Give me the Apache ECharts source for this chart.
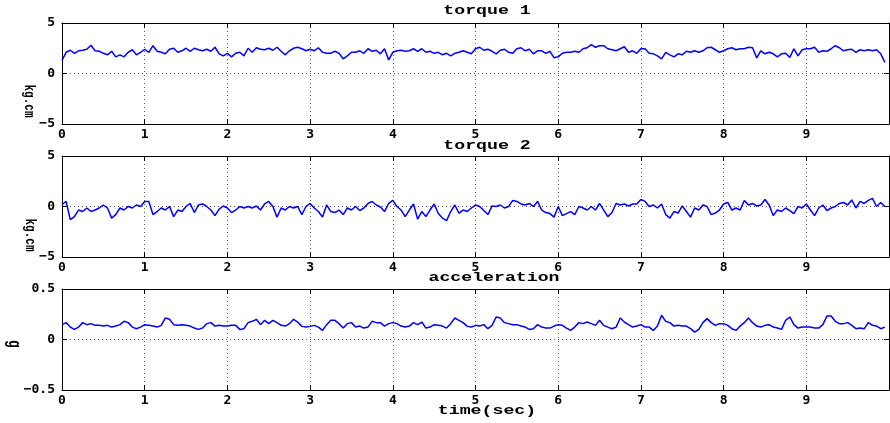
<!DOCTYPE html>
<html>
<head>
<meta charset="utf-8">
<script src="https://cdn.jsdelivr.net/npm/echarts@6/dist/echarts.min.js"></script>
<style>html,body{margin:0;padding:0;background:#fff}#c{width:890px;height:423px}</style>
</head>
<body>
<div id="c"></div>
<script>
const times = [
0,0.05,0.1,0.15,0.2,0.25,0.3,0.35,0.4,0.45,0.5,0.55,0.6,0.65,0.7,0.75,0.8,0.85,0.9,0.95,
1,1.05,1.1,1.15,1.2,1.25,1.3,1.35,1.4,1.45,1.5,1.55,1.6,1.65,1.7,1.75,1.8,1.85,1.9,1.95,
2,2.05,2.1,2.15,2.2,2.25,2.3,2.35,2.4,2.45,2.5,2.55,2.6,2.65,2.7,2.75,2.8,2.85,2.9,2.95,
3,3.05,3.1,3.15,3.2,3.25,3.3,3.35,3.4,3.45,3.5,3.55,3.6,3.65,3.7,3.75,3.8,3.85,3.9,3.95,
4,4.05,4.1,4.15,4.2,4.25,4.3,4.35,4.4,4.45,4.5,4.55,4.6,4.65,4.7,4.75,4.8,4.85,4.9,4.95,
5,5.05,5.1,5.15,5.2,5.25,5.3,5.35,5.4,5.45,5.5,5.55,5.6,5.65,5.7,5.75,5.8,5.85,5.9,5.95,
6,6.05,6.1,6.15,6.2,6.25,6.3,6.35,6.4,6.45,6.5,6.55,6.6,6.65,6.7,6.75,6.8,6.85,6.9,6.95,
7,7.05,7.1,7.15,7.2,7.25,7.3,7.35,7.4,7.45,7.5,7.55,7.6,7.65,7.7,7.75,7.8,7.85,7.9,7.95,
8,8.05,8.1,8.15,8.2,8.25,8.3,8.35,8.4,8.45,8.5,8.55,8.6,8.65,8.7,8.75,8.8,8.85,8.9,8.95,
9,9.05,9.1,9.15,9.2,9.25,9.3,9.35,9.4,9.45,9.5,9.55,9.6,9.65,9.7,9.75,9.8,9.85,9.9,9.95
];
const torque1 = [
1.3,2.1,2.3,2.0,2.25,2.3,2.4,2.8,2.25,2.2,2.0,1.85,2.2,1.65,1.85,1.65,2.1,2.35,1.85,2.1,
2.4,2.1,2.75,2.2,2.1,1.95,2.4,2.5,2.1,2.25,2.5,2.2,2.5,2.35,2.25,2.4,2.2,2.6,1.95,1.75,
2.0,1.65,2.0,2.1,1.75,2.5,2.1,2.55,2.4,2.35,2.5,2.3,2.6,2.2,1.85,2.25,2.5,2.6,2.45,2.25,
2.4,2.25,2.55,2.1,2.0,2.0,2.2,2.0,1.45,1.75,2.1,2.1,2.25,2.0,2.45,2.2,2.3,1.95,2.45,1.35,
2.1,2.25,2.3,2.2,2.25,2.45,2.2,2.45,2.1,2.2,2.0,2.1,1.85,2.0,1.75,2.0,2.1,2.25,2.1,1.95,
2.45,2.6,2.3,2.4,2.2,1.95,2.3,2.4,2.1,2.0,2.45,2.55,2.25,2.4,1.95,2.25,2.25,2.0,2.2,1.55,
1.65,2.0,2.1,2.1,2.2,2.1,2.45,2.55,2.85,2.6,2.75,2.75,2.45,2.35,2.25,2.45,2.65,2.1,2.25,2.0,
2.45,2.45,2.0,1.95,1.75,1.45,2.1,1.85,1.65,1.95,1.85,2.2,2.1,2.25,2.1,2.25,2.55,2.6,2.35,2.1,
2.25,2.45,2.55,2.35,2.45,2.45,2.6,2.55,1.55,2.25,1.95,2.1,1.95,1.65,1.95,2.0,1.6,2.45,1.75,2.35,
2.45,2.45,2.6,2.1,2.25,2.2,2.45,2.75,2.55,2.25,2.35,2.4,2.1,2.35,2.25,2.35,2.25,2.35,1.95,1.1
];
const torque2 = [
0.2,0.5,-1.3,-1.0,-0.35,-0.5,-0.15,-0.5,-0.35,-0.15,0.15,-0.15,-1.15,-0.8,-0.15,-0.35,0.0,-0.15,0.15,0.0,
0.5,0.5,-0.8,-0.5,-0.15,-0.35,0.0,-1.0,-0.35,-0.5,0.0,0.3,-0.6,0.15,0.25,0.0,-0.35,-0.9,-0.25,0.05,
-0.15,-0.6,-0.35,0.0,-0.15,0.0,-0.15,0.05,-0.35,0.25,0.5,0.0,-1.05,-0.15,-0.35,0.0,-0.15,0.0,-0.8,0.0,
0.3,-0.15,-0.5,-1.05,0.15,-0.5,-0.6,-0.35,-0.8,-0.15,-0.35,0.0,-0.4,-0.15,0.3,0.5,0.15,-0.05,-0.5,0.3,
0.6,0.0,-0.35,-1.0,-0.35,0.25,-1.25,-0.5,-1.0,-0.35,0.25,-0.7,-1.15,-1.4,-0.5,0.15,-0.65,-0.35,-0.5,-0.15,
0.15,0.0,-0.4,-0.8,0.05,0.0,0.15,-0.15,0.0,0.6,0.5,0.25,0.15,0.3,0.0,0.5,-0.35,-0.6,-0.7,-1.05,
0.0,-0.9,-0.7,-0.5,-0.8,0.0,-0.15,-0.35,0.0,-0.35,0.3,-0.35,-1.0,-0.6,0.3,0.15,0.25,0.05,0.25,0.25,
0.7,0.5,0.0,0.15,-0.15,0.25,-0.8,-1.15,-0.5,-0.65,0.05,-0.5,-1.05,-0.15,-0.35,0.15,0.0,-0.8,-0.65,-0.35,
0.25,0.4,-0.35,-0.15,-0.35,0.6,0.15,0.3,0.05,0.15,0.7,0.15,-0.9,-0.35,-0.5,-0.15,-0.4,-0.7,0.0,-0.15,
0.25,-0.35,-0.9,-0.15,0.15,-0.4,-0.15,0.0,0.3,0.4,0.15,0.65,-0.15,0.5,0.3,0.6,0.8,0.0,0.4,0.0
];
const acceleration = [
0.147,0.167,0.123,0.10,0.123,0.167,0.147,0.157,0.14,0.14,0.133,0.14,0.123,0.133,0.147,0.18,0.167,0.123,0.107,0.123,
0.147,0.14,0.133,0.123,0.14,0.213,0.20,0.147,0.14,0.147,0.14,0.133,0.113,0.10,0.113,0.157,0.167,0.133,0.14,0.133,
0.133,0.14,0.14,0.10,0.107,0.167,0.18,0.20,0.147,0.19,0.157,0.19,0.167,0.14,0.133,0.157,0.20,0.173,0.13,0.123,
0.13,0.14,0.123,0.09,0.147,0.19,0.19,0.157,0.113,0.157,0.167,0.123,0.133,0.113,0.123,0.18,0.167,0.167,0.133,0.157,
0.167,0.157,0.133,0.123,0.133,0.167,0.147,0.173,0.113,0.123,0.147,0.14,0.133,0.113,0.157,0.213,0.19,0.167,0.13,0.123,
0.14,0.133,0.147,0.107,0.14,0.223,0.213,0.167,0.157,0.147,0.147,0.133,0.123,0.10,0.107,0.147,0.123,0.113,0.113,0.133,
0.147,0.14,0.113,0.09,0.123,0.167,0.157,0.173,0.157,0.14,0.19,0.14,0.123,0.107,0.123,0.213,0.173,0.147,0.123,0.133,
0.147,0.123,0.123,0.09,0.133,0.24,0.18,0.167,0.133,0.14,0.133,0.133,0.107,0.073,0.10,0.167,0.207,0.167,0.14,0.157,
0.157,0.14,0.107,0.09,0.133,0.167,0.213,0.167,0.133,0.123,0.14,0.147,0.123,0.113,0.10,0.19,0.223,0.147,0.113,0.123,
0.123,0.123,0.113,0.113,0.147,0.233,0.233,0.18,0.157,0.157,0.167,0.14,0.107,0.113,0.107,0.167,0.14,0.133,0.107,0.123
];
const titles = ['torque 1', 'torque 2', 'acceleration'];
const yLabels = ['kg.cm', 'kg.cm', 'g'];
const xLabel = 'time(sec)';
const yRanges = [[-5, 5, 5], [-5, 5, 5], [-0.5, 0.5, 0.5]];
const seriesList = [torque1, torque2, acceleration];

const gridTops = [23, 156, 289];
const gridH = 101;
const tickFont = {fontFamily: 'DejaVu Sans Mono', fontWeight: 'bold', fontSize: 13, color: '#000'};
const fmtY = v => String(v).replace('-', '\u2212');

const grids = [], xAxes = [], yAxes = [], series = [];
for (let i = 0; i < 3; i++) {
  grids.push({left: 62, width: 827, top: gridTops[i], height: gridH, containLabel: false});
  xAxes.push({
    type: 'value', gridIndex: i, min: 0, max: 10, interval: 1, position: 'bottom',
    axisLine: {show: true, onZero: false, lineStyle: {color: '#000', width: 1}},
    axisTick: {show: true, inside: true, length: 5, lineStyle: {color: '#000'}},
    axisLabel: Object.assign({margin: 4, showMaxLabel: false}, tickFont),
    splitLine: {show: true, lineStyle: {color: '#555', type: [1, 3], width: 1}}
  });
  xAxes.push({
    type: 'value', gridIndex: i, min: 0, max: 10, interval: 1, position: 'top',
    axisLine: {show: true, onZero: false, lineStyle: {color: '#000', width: 1}},
    axisTick: {show: true, inside: true, length: 5, lineStyle: {color: '#000'}},
    axisLabel: {show: false}, splitLine: {show: false}
  });
  const r = yRanges[i];
  yAxes.push({
    type: 'value', gridIndex: i, min: r[0], max: r[1], interval: r[2], position: 'left',
    axisLine: {show: true, onZero: false, lineStyle: {color: '#000', width: 1}},
    axisTick: {show: true, inside: true, length: 5, lineStyle: {color: '#000'}},
    axisLabel: Object.assign({margin: 7, formatter: fmtY}, tickFont),
    splitLine: {show: true, lineStyle: {color: '#555', type: [1, 3], width: 1}}
  });
  yAxes.push({
    type: 'value', gridIndex: i, min: r[0], max: r[1], interval: r[2], position: 'right',
    axisLine: {show: true, onZero: false, lineStyle: {color: '#000', width: 1}},
    axisTick: {show: true, inside: true, length: 5, lineStyle: {color: '#000'}},
    axisLabel: {show: false}, splitLine: {show: false}
  });
  series.push({
    type: 'line', xAxisIndex: i * 2, yAxisIndex: i * 2,
    data: times.map((t, k) => [t, seriesList[i][k]]),
    showSymbol: false, symbol: 'none',
    lineStyle: {color: '#0000ff', width: 1.5}, z: 3
  });
}

const txtFont = (sz) => 'bold ' + sz + 'px "Liberation Mono"';
const graphic = [
  {type: 'text', x: 487, y: 11, scaleX: 1.4, style: {text: titles[0], font: txtFont(13), fill: '#000', textAlign: 'center', verticalAlign: 'middle'}},
  {type: 'text', x: 487, y: 146, scaleX: 1.4, style: {text: titles[1], font: txtFont(13), fill: '#000', textAlign: 'center', verticalAlign: 'middle'}},
  {type: 'text', x: 494, y: 278, scaleX: 1.4, style: {text: titles[2], font: txtFont(13), fill: '#000', textAlign: 'center', verticalAlign: 'middle'}},
  {type: 'text', x: 487, y: 411, scaleX: 1.4, style: {text: xLabel, font: txtFont(13), fill: '#000', textAlign: 'center', verticalAlign: 'middle'}},
  {type: 'text', x: 29, y: 101, rotation: -Math.PI / 2, scaleY: 1.4, style: {text: yLabels[0], font: txtFont(11), fill: '#000', textAlign: 'center', verticalAlign: 'middle'}},
  {type: 'text', x: 30, y: 235, rotation: -Math.PI / 2, scaleY: 1.4, style: {text: yLabels[1], font: txtFont(11), fill: '#000', textAlign: 'center', verticalAlign: 'middle'}},
  {type: 'text', x: 14, y: 344, rotation: -Math.PI / 2, scaleY: 1.4, style: {text: yLabels[2], font: txtFont(13), fill: '#000', textAlign: 'center', verticalAlign: 'middle'}}
];

const chart = echarts.init(document.getElementById('c'), null, {renderer: 'canvas'});
chart.setOption({
  animation: false,
  backgroundColor: '#fff',
  grid: grids, xAxis: xAxes, yAxis: yAxes, series: series, graphic: graphic
});
</script>
</body>
</html>
